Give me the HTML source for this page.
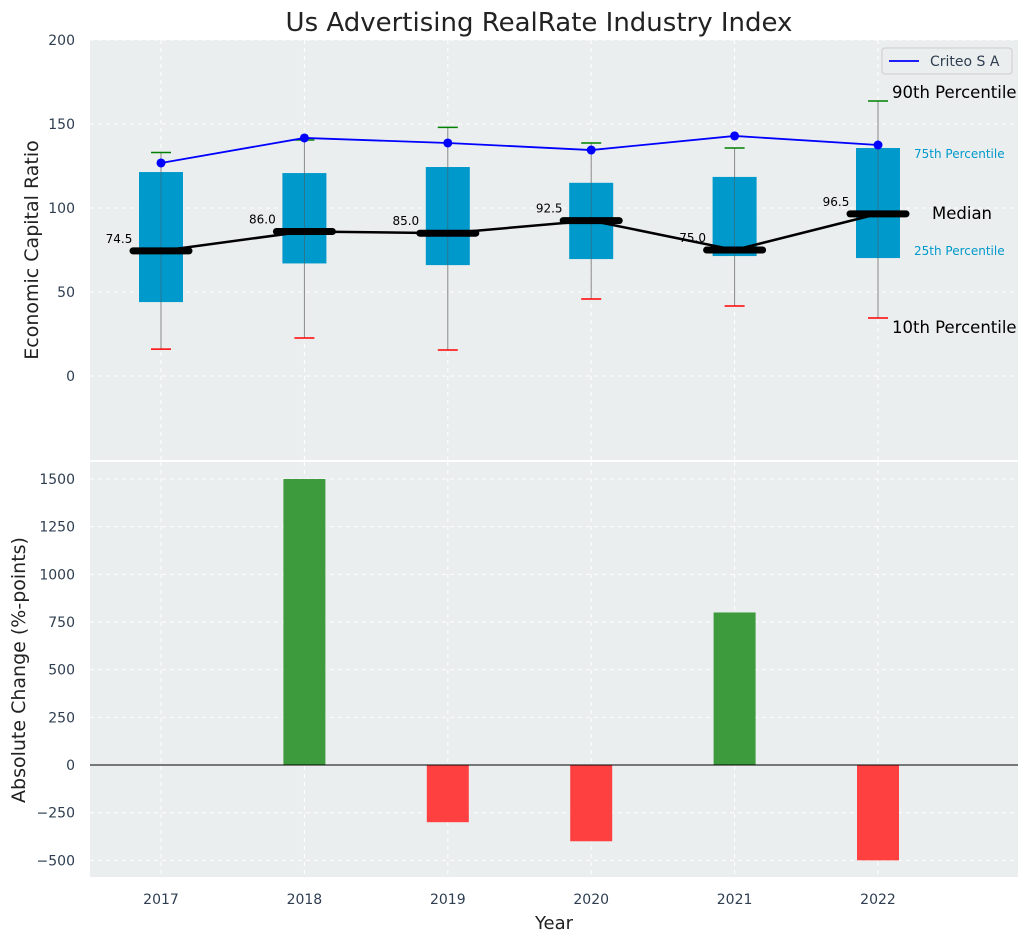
<!DOCTYPE html>
<html><head><meta charset="utf-8"><style>
body{margin:0;background:#fff;}
svg text{font-family:"DejaVu Sans","Liberation Sans",sans-serif;}
</style></head><body>
<svg id="chart" width="1029" height="942" xmlns="http://www.w3.org/2000/svg"></svg>
<script>
const years=[2017,2018,2019,2020,2021,2022];
const p10=[16,22.6,15.5,45.8,41.7,34.5];
const q1=[44,67,66,69.6,71.4,70.2];
const medians=[74.5,86.0,85.0,92.5,75.0,96.5];
const q3=[121.4,120.8,124.4,115,118.5,135.7];
const p90=[133,140.5,148,138.7,135.7,163.7];
const criteo=[126.8,141.7,138.7,134.5,142.9,137.5];
const changes=[0,1500,-300,-400,800,-500];
const topTicks=[0,50,100,150,200];
const botTicks=[-500,-250,0,250,500,750,1000,1250,1500];

const NS="http://www.w3.org/2000/svg";
const svg=document.getElementById('chart');
function el(tag,attrs,parent){const e=document.createElementNS(NS,tag);for(const k in attrs)e.setAttribute(k,attrs[k]);(parent||svg).appendChild(e);return e;}
const L=90,R=1018;
const x=v=>161+(v-2017)*143.4;
const T0=40,T1=460; const yt=v=>T1-(v+50)/250*(T1-T0);
const B0=460,B1=877; const yb=v=>765-v*(286/1500);

let e=el('rect',{x:L,y:T0,width:R-L,height:T1-T0,fill:'#ebeeee'});

e=el('rect',{x:L,y:B0+2,width:R-L,height:B1-B0-2,fill:'#ebeeee'});


years.forEach(yr=>{
 el('line',{x1:x(yr),x2:x(yr),y1:T0,y2:T1,stroke:'#fff','stroke-dasharray':'4,4','stroke-width':1});
 el('line',{x1:x(yr),x2:x(yr),y1:B0+2,y2:B1,stroke:'#fff','stroke-dasharray':'4,4','stroke-width':1});
 let t=el('text',{x:x(yr),y:904,'text-anchor':'middle','font-size':14,fill:'#2e3e50'});t.textContent=yr;
 
});
topTicks.forEach(v=>{
 el('line',{x1:L,x2:R,y1:yt(v),y2:yt(v),stroke:'#fff','stroke-dasharray':'4,4'});
 let t=el('text',{x:75,y:yt(v)+5,'text-anchor':'end','font-size':14,fill:'#2e3e50'});t.textContent=v;
 
});
botTicks.forEach(v=>{
 el('line',{x1:L,x2:R,y1:yb(v),y2:yb(v),stroke:'#fff','stroke-dasharray':'4,4'});
 let t=el('text',{x:75,y:yb(v)+5,'text-anchor':'end','font-size':14,fill:'#2e3e50'});t.textContent=v<0?'\u2212'+(-v):v;
 
});

years.forEach((yr,i)=>{
 const cx=x(yr);
 let w=el('line',{x1:cx,x2:cx,y1:yt(p10[i]),y2:yt(p90[i]),stroke:'#888','stroke-width':1});
 
 let b=el('rect',{x:cx-22,y:yt(q3[i]),width:44,height:yt(q1[i])-yt(q3[i]),fill:'#0099cc'});
 
 el('line',{x1:cx,x2:cx,y1:yt(q3[i]),y2:yt(q1[i]),stroke:'#555','stroke-width':0.8,opacity:0.6});
 let c=el('line',{x1:cx-10,x2:cx+10,y1:yt(p90[i]),y2:yt(p90[i]),stroke:'green','stroke-width':1.5});
 
 c=el('line',{x1:cx-10,x2:cx+10,y1:yt(p10[i]),y2:yt(p10[i]),stroke:'red','stroke-width':1.5});
 
});
let mp=el('polyline',{points:years.map((yr,i)=>x(yr)+','+yt(medians[i])).join(' '),fill:'none',stroke:'#000','stroke-width':2.5});

years.forEach((yr,i)=>{
 const cx=x(yr);
 let m=el('line',{x1:cx-28,x2:cx+28,y1:yt(medians[i]),y2:yt(medians[i]),stroke:'#000','stroke-width':7,'stroke-linecap':'round'});
 
 let t=el('text',{x:cx-42,y:yt(medians[i])-8,'text-anchor':'middle','font-size':12,fill:'#000'});t.textContent=medians[i].toFixed(1);
 
});
let cl=el('polyline',{points:years.map((yr,i)=>x(yr)+','+yt(criteo[i])).join(' '),fill:'none',stroke:'blue','stroke-width':1.8});

years.forEach((yr,i)=>{
 let p=el('circle',{cx:x(yr),cy:yt(criteo[i]),r:4.5,fill:'blue'});
 
});

const ann=[['90th Percentile',892,98,16.5,'#000'],['75th Percentile',914,158,12,'#0099cc'],['Median',932,219,16.5,'#000'],['25th Percentile',914,255,12,'#0099cc'],['10th Percentile',892,333,16.5,'#000']];
ann.forEach(a=>{let t=el('text',{x:a[1],y:a[2],'font-size':a[3],fill:a[4]});t.textContent=a[0];
 });

let lg=el('g',{});
el('rect',{x:882,y:48,width:130,height:26,fill:'#ebeeee',stroke:'#ccc',rx:3},lg);
el('line',{x1:889,x2:919,y1:61,y2:61,stroke:'blue','stroke-width':1.8},lg);
let lt=el('text',{x:930,y:66,'font-size':14,fill:'#2e3e50'},lg);lt.textContent='Criteo S A';

years.forEach((yr,i)=>{
 const v=changes[i]; if(v===0)return;
 const y0=yb(Math.max(v,0)),y1=yb(Math.min(v,0));
 let b=el('rect',{x:x(yr)-21,y:y0,width:42,height:y1-y0,fill:v>0?'#3d9b3d':'#ff4040'});
 
});
el('line',{x1:L,x2:R,y1:yb(0),y2:yb(0),stroke:'#000','stroke-width':1});

let t=el('text',{x:539,y:31,'text-anchor':'middle','font-size':26,fill:'#222'});t.textContent='Us Advertising RealRate Industry Index';

t=el('text',{x:0,y:0,'text-anchor':'middle','font-size':19,fill:'#222',transform:'translate(38,250) rotate(-90)'});t.textContent='Economic Capital Ratio';

t=el('text',{x:0,y:0,'text-anchor':'middle','font-size':19,fill:'#222',transform:'translate(25,670) rotate(-90)'});t.textContent='Absolute Change (%-points)';

t=el('text',{x:554,y:929,'text-anchor':'middle','font-size':18,fill:'#222'});t.textContent='Year';

</script>
</body></html>
